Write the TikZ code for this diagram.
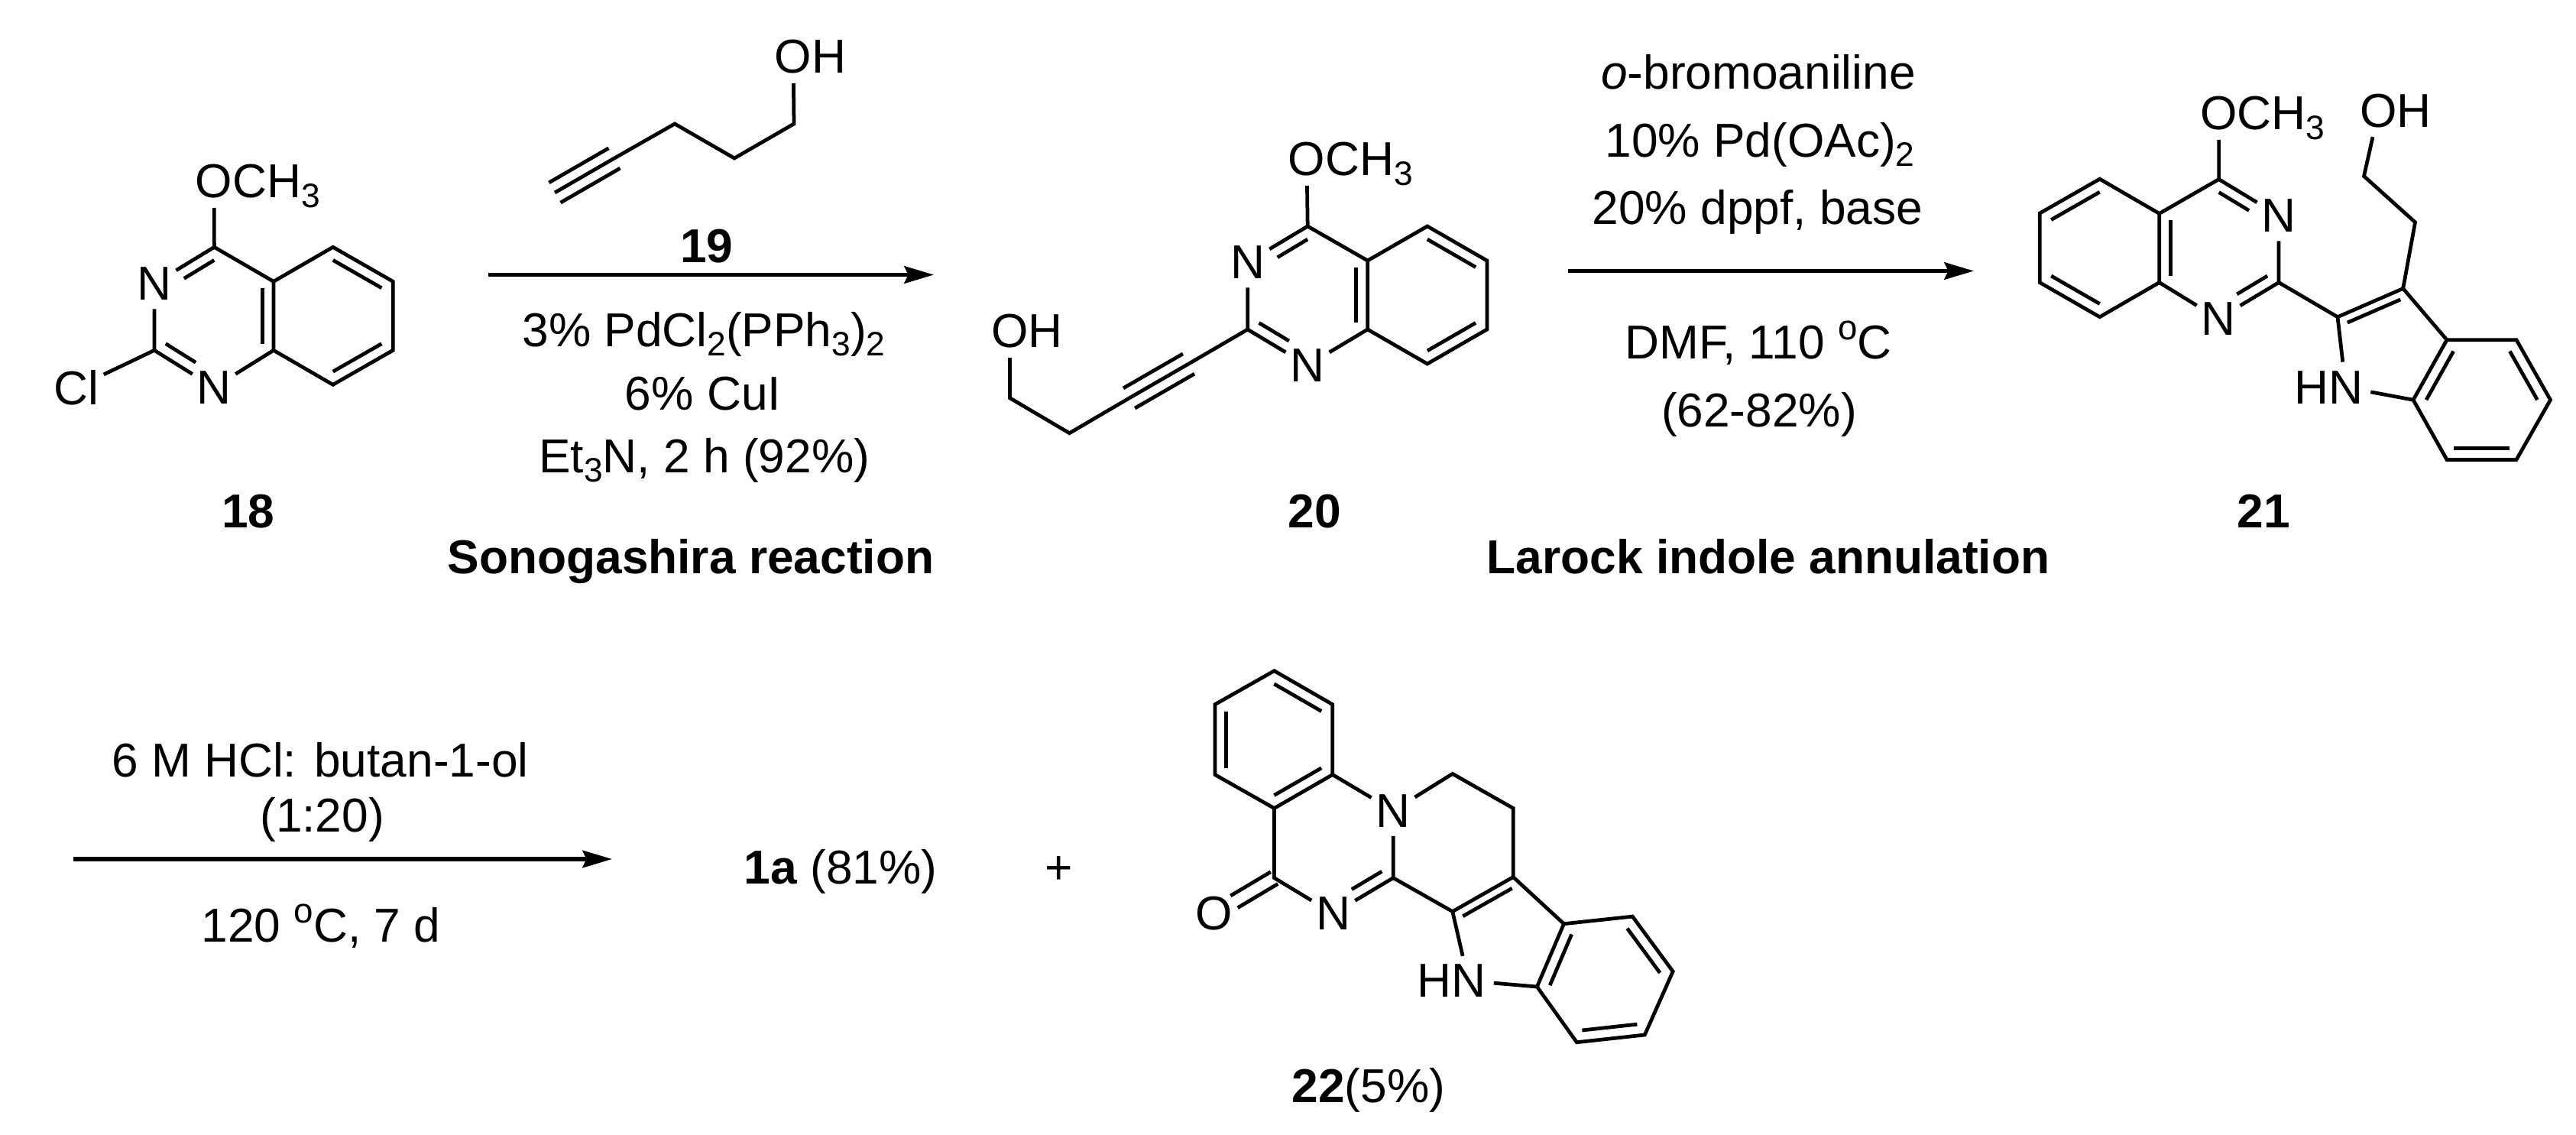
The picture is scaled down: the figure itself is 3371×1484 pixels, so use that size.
\documentclass[tikz,border=0pt]{standalone}
\usepackage{fontspec}
\setmainfont{Liberation Sans}
\usetikzlibrary{arrows.meta, calc}

\newcommand{\lowsub}[1]{\smash{\raisebox{-3.6pt}{\fontsize{12.6}{13}\selectfont #1}}}
\newcommand{\upsup}[1]{\raisebox{7pt}{\fontsize{13}{13}\selectfont #1}}
\newcommand{\ringbond}[4][]{\draw[#1] ($(#2)!.19!(#4)$) -- ($(#3)!.19!(#4)$);}
\newcommand{\triplebond}[2]{
	\draw (#1) -- (#2);
	\draw ($(#1)!4.3pt!90:(#2)$) -- ($(#2)!4.3pt!-90:(#1)$);
	\draw ($(#1)!4.3pt!-90:(#2)$) -- ($(#2)!4.3pt!90:(#1)$);
}
\newcommand{\sidebond}[2]{
	\draw[shorten >=8.6pt] ($(#1)!2.6pt!90:(#2)$) -- ($(#2)!2.6pt!-90:(#1)$);
	\draw[shorten >=8.6pt] ($(#1)!2.6pt!-90:(#2)$) -- ($(#2)!2.6pt!90:(#1)$);
}

\tikzset{
	atom/.style={circle, inner sep=0pt, font=\fontsize{17.7}{20}\selectfont},
	lbl/.style={anchor=base, inner sep=0pt, font=\fontsize{17.7}{20}\selectfont},
	nend/.style={shorten >=8pt},
	rxnarrow/.style={line width=1.5pt, -{Stealth[length=11pt,width=6.4pt,inset=1.5pt]}}
}

\begin{document}
\begin{tikzpicture}[x=.01cm, y=-.01cm, line width=1.35pt]
	\useasboundingbox (0,0) rectangle (3371,1484);

	% 18
	\coordinate (a4) at (280.4,323.3);
	\coordinate (a4a) at (358,368.3);
	\coordinate (a8a) at (358,458.3);
	\coordinate (a2) at (202,458.3);
	\coordinate (a5) at (435.7,323.3);
	\coordinate (a6) at (514.3,368.3);
	\coordinate (a7) at (514.3,458.3);
	\coordinate (a8) at (435.7,503.3);
	\coordinate (arc) at (280,413);
	\coordinate (abc) at (436,413);
	\node[atom] (an3) at (202,371) {N};
	\node[atom] (an1) at (280,507) {N};
	\node[atom] (acl) at (100,507) {Cl};
	\node[atom] (ao) at (280,237) {O\rlap{\smash{CH\lowsub{3}}}};
	\draw (ao) -- (a4) -- (a4a) -- (a5) -- (a6) -- (a7) -- (a8) -- (a8a) -- (a4a);
	\draw (a4) -- (an3) -- (a2) -- (an1) -- (a8a);
	\draw (a2) -- (acl);
	\ringbond[nend]{a4}{an3}{arc}
	\ringbond[nend]{a2}{an1}{arc}
	\ringbond{a4a}{a8a}{arc}
	\ringbond{a5}{a6}{abc}
	\ringbond{a7}{a8}{abc}
	\node[lbl] (l18) at (325,690) {\textbf{18}};

	% 19
	\node[atom] (bo) at (1038,74) {O\rlap{H}};
	\coordinate (b1) at (1039,162);
	\coordinate (b2) at (961,207);
	\coordinate (b3) at (883,162);
	\coordinate (b4) at (804,207);
	\coordinate (b5) at (726,252);
	\draw (bo) -- (b1) -- (b2) -- (b3) -- (b4);
	\triplebond{b4}{b5}

	% arrow 18 to 20
	\coordinate (ra) at (639,359.5);
	\coordinate (rb) at (1222,359.5);
	\draw[rxnarrow] (ra) -- (rb);
	\node[lbl] (t19) at (925,343) {\textbf{19}};
	\node[lbl] (tpd) at (921,453) {3\% PdCl\lowsub{2}(PPh\lowsub{3})\lowsub{2}};
	\node[lbl] (tcu) at (920,536) {6\% CuI};
	\node[lbl] (tet) at (921.8,618) {Et\lowsub{3}N, 2 h (92\%)};
	\node[lbl] (tso) at (904,750) {\textbf{Sonogashira reaction}};

	% 20
	\coordinate (c4) at (1711.2,296);
	\coordinate (c4a) at (1789.7,341);
	\coordinate (c8a) at (1789.7,431);
	\coordinate (c2) at (1632.7,431);
	\coordinate (c5) at (1867.8,296);
	\coordinate (c6) at (1945.9,341);
	\coordinate (c7) at (1945.9,431);
	\coordinate (c8) at (1867.8,476);
	\coordinate (ct1) at (1555.5,476);
	\coordinate (ct2) at (1477.5,521);
	\coordinate (cm1) at (1399.5,566.7);
	\coordinate (cm2) at (1321.4,520.7);
	\coordinate (crc) at (1711,386);
	\coordinate (cbc) at (1868,386);
	\node[atom] (cn3) at (1632.7,343) {N};
	\node[atom] (cn1) at (1711,478) {N};
	\node[atom] (co) at (1710,208) {O\rlap{\smash{CH\lowsub{3}}}};
	\node[atom] (coh) at (1321.4,433) {O\rlap{H}};
	\draw (co) -- (c4) -- (c4a) -- (c5) -- (c6) -- (c7) -- (c8) -- (c8a) -- (c4a);
	\draw (c4) -- (cn3) -- (c2) -- (cn1) -- (c8a);
	\draw (c2) -- (ct1);
	\triplebond{ct1}{ct2}
	\draw (ct2) -- (cm1) -- (cm2) -- (coh);
	\ringbond[nend]{c4}{cn3}{crc}
	\ringbond[nend]{c2}{cn1}{crc}
	\ringbond{c4a}{c8a}{crc}
	\ringbond{c5}{c6}{cbc}
	\ringbond{c7}{c8}{cbc}
	\node[lbl] (l20) at (1720,690) {\textbf{20}};

	% arrow 20 to 21
	\coordinate (sa) at (2052,354.5);
	\coordinate (sb) at (2583,354.5);
	\draw[rxnarrow] (sa) -- (sb);
	\node[lbl] (uo) at (2301,116) {\textit{o}-bromoaniline};
	\node[lbl] (upd) at (2303,205) {10\% Pd(OAc)\lowsub{2}};
	\node[lbl] (udp) at (2300,293.5) {20\% dppf, base};
	\node[lbl] (udm) at (2301,469) {DMF, 110 \upsup{o}C};
	\node[lbl] (uyi) at (2302,558) {(62-82\%)};
	\node[lbl] (ula) at (2314,750) {\textbf{Larock indole annulation}};

	% 21
	\coordinate (d4) at (2903.6,234.6);
	\coordinate (d4a) at (2825.7,279.4);
	\coordinate (d8a) at (2825.7,369.6);
	\coordinate (d5) at (2747.7,234.2);
	\coordinate (d6) at (2669.3,279);
	\coordinate (d7) at (2669.3,369.6);
	\coordinate (d8) at (2747.7,414.7);
	\coordinate (d2) at (2982,369.6);
	\coordinate (di2) at (3059,414.7);
	\coordinate (di3) at (3144.7,377.5);
	\coordinate (di3a) at (3202,444.7);
	\coordinate (di7a) at (3158,523.2);
	\coordinate (di4) at (3293,444.7);
	\coordinate (di5) at (3337.5,523.2);
	\coordinate (di6) at (3293,601.4);
	\coordinate (di7) at (3202,601.4);
	\coordinate (dm1) at (3160.5,290.8);
	\coordinate (dm2) at (3093.5,230.5);
	\coordinate (drc) at (2904,324);
	\coordinate (dbc) at (2747.7,324);
	\coordinate (dfc) at (3126.7,453.5);
	\coordinate (dic) at (3247.5,523);
	\node[atom] (do) at (2903.6,148) {O\rlap{\smash{CH\lowsub{3}}}};
	\node[atom] (dn3) at (2982,282) {N};
	\node[atom] (dn1) at (2903,417) {N};
	\node[atom] (dnh) at (3069.6,506.7) {\llap{H}N};
	\node[atom] (doh) at (3112.7,145) {O\rlap{H}};
	\draw (do) -- (d4) -- (d4a) -- (d5) -- (d6) -- (d7) -- (d8) -- (d8a) -- (d4a);
	\draw (d4) -- (dn3) -- (d2) -- (dn1) -- (d8a);
	\draw (d2) -- (di2) -- (di3) -- (di3a) -- (di7a) -- (dnh) -- (di2);
	\draw (di3a) -- (di4) -- (di5) -- (di6) -- (di7) -- (di7a);
	\draw (di3) -- (dm1) -- (dm2) -- (doh);
	\ringbond[nend]{d4}{dn3}{drc}
	\ringbond[nend]{d2}{dn1}{drc}
	\ringbond{d4a}{d8a}{drc}
	\ringbond{d5}{d6}{dbc}
	\ringbond{d7}{d8}{dbc}
	\ringbond{di2}{di3}{dfc}
	\ringbond{di3a}{di7a}{dic}
	\ringbond{di4}{di5}{dic}
	\ringbond{di6}{di7}{dic}
	\node[lbl] (l21) at (2962,690) {\textbf{21}};

	% arrow 21 to 1a + 22
	\coordinate (ta) at (96,1124);
	\coordinate (tb) at (801,1124);
	\draw[rxnarrow] (ta) -- (tb);
	\node[lbl] (vh) at (419,1016) {6 M HCl: butan-1-ol};
	\node[lbl] (vr) at (421.6,1088) {(1:20)};
	\node[lbl] (vt) at (420,1232) {120 \upsup{o}C, 7 d};
	\node[lbl] (va) at (1100,1156) {\textbf{1a} (81\%)};
	\node[lbl] (vp) at (1386,1156) {+};

	% 22
	\coordinate (e1) at (1667.5,877.7);
	\coordinate (e2) at (1743.8,921.7);
	\coordinate (e3) at (1743.8,1013.5);
	\coordinate (e4) at (1667.5,1057.5);
	\coordinate (e5) at (1589.9,1013.5);
	\coordinate (e6) at (1589.9,921.7);
	\coordinate (eco) at (1667.5,1148.6);
	\coordinate (ecn) at (1823.2,1148.6);
	\coordinate (em1) at (1900.8,1012.4);
	\coordinate (em2) at (1980.2,1057.5);
	\coordinate (ei3) at (1980.2,1147.5);
	\coordinate (ei2) at (1900.8,1192.6);
	\coordinate (ei7a) at (2011.4,1291);
	\coordinate (ei3a) at (2046.5,1208.7);
	\coordinate (ei4) at (2136.3,1199.1);
	\coordinate (ei5) at (2189.2,1271);
	\coordinate (ei6) at (2152.3,1354);
	\coordinate (ei7) at (2063.4,1363.7);
	\coordinate (eac) at (1667,968);
	\coordinate (ebc) at (1745,1104);
	\coordinate (efc) at (1972,1225);
	\coordinate (eic) at (2100,1281);
	\node[atom] (eo) at (1589,1195.3) {O};
	\node[atom] (enb) at (1744.7,1195.3) {N};
	\node[atom] (ent) at (1823.2,1060.6) {N};
	\node[atom] (enh) at (1921.6,1283.3) {\llap{H}N};
	\draw (e4) -- (e5) -- (e6) -- (e1) -- (e2) -- (e3) -- cycle;
	\draw (e3) -- (ent) -- (ecn) -- (enb) -- (eco) -- (e4);
	\draw (ent) -- (em1) -- (em2) -- (ei3) -- (ei2) -- (ecn);
	\draw (ei2) -- (enh) -- (ei7a) -- (ei3a) -- (ei3);
	\draw (ei3a) -- (ei4) -- (ei5) -- (ei6) -- (ei7) -- (ei7a);
	\sidebond{eco}{eo}
	\ringbond{e1}{e2}{eac}
	\ringbond{e5}{e6}{eac}
	\ringbond{e3}{e4}{eac}
	\ringbond[nend]{ecn}{enb}{ebc}
	\ringbond{ei2}{ei3}{efc}
	\ringbond{ei3a}{ei7a}{eic}
	\ringbond{ei4}{ei5}{eic}
	\ringbond{ei6}{ei7}{eic}
	\node[lbl] (l22) at (1791,1442) {\textbf{22}(5\%)};
\end{tikzpicture}
\end{document}
